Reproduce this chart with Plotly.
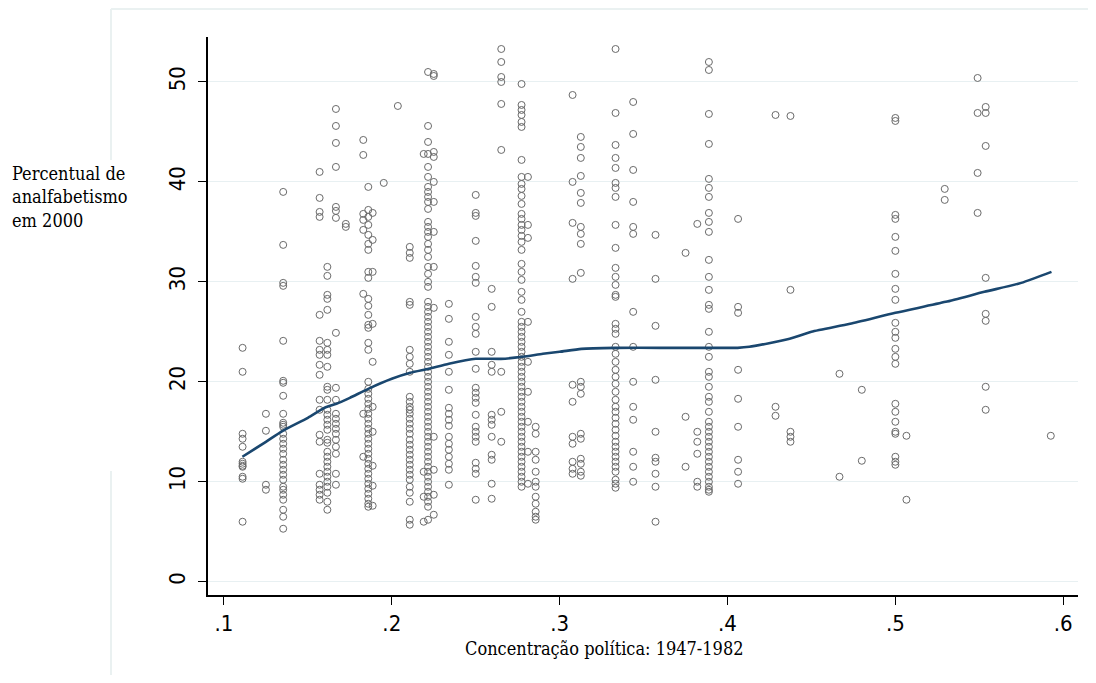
import plotly.graph_objects as go

# ---- data: x position of each column and its y values ----
col_x = [0.1111, 0.125, 0.1353, 0.157, 0.1616, 0.1667, 0.1726, 0.183, 0.186, 0.1886,
         0.1952, 0.2036, 0.2107, 0.2216, 0.225, 0.219, 0.234, 0.25, 0.2595, 0.2652,
         0.2773, 0.2811, 0.2857, 0.3077, 0.3126, 0.3333, 0.3438, 0.3571, 0.375, 0.382,
         0.3889, 0.4063, 0.4286, 0.4375, 0.4667, 0.48, 0.5, 0.5066, 0.5294, 0.549,
         0.5538, 0.5926]

c01 = [23.4, 21.0, 14.8, 14.3, 13.5, 12.0, 11.8, 11.6, 11.5, 10.5, 10.3, 6.0]
c02 = [16.8, 15.1, 9.7, 9.2]
c03 = [39.0, 33.7, 29.9, 29.6, 24.1, 20.1, 19.9, 18.6, 16.8, 15.9, 15.7, 15.5, 14.8, 14.3,
       13.8, 13.3, 12.8, 12.2, 11.7, 11.2, 10.7, 10.2, 9.5, 9.2, 8.7, 8.2, 7.2, 6.5, 5.3]
c04 = [41.0, 38.4, 37.0, 36.5, 26.7, 24.1, 23.2, 22.7, 21.7, 20.7, 18.2, 17.2, 14.7, 14.0,
       10.8, 9.7, 9.2, 8.7, 8.2]
c05 = [31.5, 30.6, 28.7, 28.3, 27.2, 23.9, 23.2, 22.7, 21.5, 19.5, 19.2, 18.2, 17.2, 16.7,
       16.2, 15.7, 15.2, 14.2, 13.9, 13.0, 12.5, 12.0, 11.5, 11.0, 10.5, 10.0, 9.5, 8.9, 8.0, 7.2]
c06 = [47.3, 45.6, 43.9, 41.5, 37.5, 37.1, 36.4, 24.9, 19.4, 18.2, 16.8, 16.3, 15.8, 15.3,
       14.8, 14.2, 13.5, 12.8, 10.8, 9.7]
c07 = [35.8, 35.5]
c08 = [44.2, 42.7, 36.8, 36.2, 35.2, 28.8, 16.8, 12.5]
c09 = [39.5, 37.2, 36.5, 35.7, 34.7, 33.8, 33.2, 31.0, 30.4, 28.3, 27.6, 26.7, 25.7, 25.4,
       23.9, 23.2, 20.0, 19.3, 18.8, 18.3, 17.8, 17.3, 16.8, 16.3, 15.8, 15.3, 14.8, 14.3,
       13.8, 13.3, 12.8, 12.3, 11.8, 11.3, 10.8, 10.3, 9.8, 9.3, 8.8, 8.3, 7.8, 7.5]
c10 = [36.9, 34.2, 31.0, 25.8, 22.0, 17.5, 15.0, 11.6, 9.6, 7.6]
c11 = [39.9]
c12 = [47.6]
c13 = [33.5, 32.9, 32.4, 28.0, 27.7, 23.2, 22.5, 21.8, 21.0, 18.5, 18.0, 17.5, 17.2, 16.8,
       16.3, 15.8, 15.3, 14.8, 14.2, 13.7, 13.2, 12.7, 12.2, 11.7, 11.2, 10.7, 10.2, 9.5,
       8.9, 8.0, 6.2, 5.7]
c14 = [51.0, 45.6, 44.0, 42.8, 41.5, 40.5, 39.5, 39.0, 38.5, 38.0, 37.3, 36.0, 35.5, 35.0,
       34.5, 33.8, 33.2, 32.5, 31.5, 30.8, 30.0, 29.5, 28.0, 27.5, 27.0, 26.5, 26.0, 25.5,
       25.0, 24.5, 24.0, 23.5, 23.0, 22.5, 22.0, 21.5, 21.0, 20.5, 20.0, 19.5, 19.0, 18.5,
       18.0, 17.5, 17.0, 16.5, 16.0, 15.5, 15.0, 14.5, 14.0, 13.5, 13.0, 12.5, 12.0, 11.5,
       11.0, 10.5, 10.0, 9.5, 9.0, 8.5, 8.0, 7.5, 6.2]
c15 = [50.8, 50.6, 43.0, 42.5, 40.0, 38.0, 35.0, 31.5, 27.4, 14.5, 11.2, 8.7, 6.7]
c16 = [42.8, 11.0, 8.5, 6.0]
c17 = [27.8, 26.3, 24.0, 22.7, 21.0, 19.2, 17.4, 16.8, 16.2, 15.6, 14.5, 13.8, 13.2, 12.5,
       11.8, 11.2, 9.7]
c18 = [38.7, 36.9, 36.6, 34.1, 31.6, 30.5, 29.9, 26.5, 25.5, 24.8, 23.0, 21.3, 19.4, 18.9,
       18.4, 17.9, 16.7, 15.5, 15.0, 14.5, 14.0, 11.9, 11.3, 10.8, 8.2]
c19 = [29.3, 27.5, 23.0, 21.7, 21.0, 16.7, 16.2, 15.7, 14.5, 12.7, 12.2, 9.8, 8.3]
c20 = [53.3, 52.0, 50.5, 50.0, 47.8, 43.2, 21.0, 17.0, 14.0]
c21 = [49.8, 47.7, 47.2, 46.7, 46.0, 45.5, 42.2, 40.5, 39.8, 39.3, 38.6, 37.8, 36.8, 36.3,
       35.7, 35.2, 34.6, 34.0, 33.2, 31.8, 31.0, 30.2, 29.0, 28.2, 27.0, 26.0, 25.5, 25.0,
       24.5, 24.0, 23.5, 23.0, 22.5, 22.0, 21.5, 21.0, 20.5, 20.0, 19.5, 19.0, 18.5, 18.0,
       17.5, 17.0, 16.5, 16.0, 15.5, 15.0, 14.5, 14.0, 13.5, 13.0, 12.5, 12.0, 11.5, 11.0,
       10.5, 10.0, 9.5]
c22 = [40.5, 35.7, 34.4, 26.0, 22.0, 19.0, 16.0, 13.0, 9.8]
c23 = [15.5, 14.8, 13.0, 12.2, 11.0, 10.0, 9.5, 8.5, 7.8, 7.0, 6.5, 6.2]
c24 = [48.7, 40.0, 35.9, 30.3, 19.7, 18.0, 14.5, 13.8, 12.0, 11.3, 10.8]
c25 = [44.5, 43.5, 42.4, 40.6, 38.9, 37.9, 35.5, 34.8, 33.8, 30.9, 20.0, 19.5, 18.8, 14.8,
       14.3, 12.3, 11.8, 11.0, 10.6]
c26 = [53.3, 46.9, 43.7, 42.4, 41.4, 39.9, 39.4, 38.5, 35.7, 33.4, 31.4, 30.5, 29.7, 28.7,
       28.5, 25.8, 25.3, 24.8, 23.5, 22.8, 22.0, 21.2, 20.5, 19.8, 19.0, 18.2, 17.5, 17.0,
       16.4, 15.8, 15.2, 14.6, 14.0, 13.5, 13.0, 12.5, 12.0, 11.5, 11.0, 10.2, 9.8, 9.4]
c27 = [48.0, 44.8, 41.2, 38.0, 35.5, 34.8, 27.0, 23.5, 20.0, 17.5, 16.2, 13.0, 11.5, 10.0]
c28 = [34.7, 30.3, 25.6, 20.2, 15.0, 12.4, 12.0, 10.8, 9.5, 6.0]
c29 = [32.9, 16.5, 11.5]
c30 = [35.8, 15.0, 14.0, 12.8, 10.0, 9.5]
c31 = [52.0, 51.2, 46.8, 43.8, 40.3, 39.4, 38.5, 36.9, 36.0, 35.0, 32.2, 30.5, 29.2, 27.7,
       27.3, 25.0, 23.5, 22.5, 21.0, 20.5, 19.5, 18.5, 18.0, 17.0, 16.0, 15.5, 15.0, 14.5,
       14.0, 13.5, 13.0, 12.5, 12.0, 11.5, 11.0, 10.5, 10.0, 9.5, 9.2, 9.0]
c32 = [36.3, 27.5, 26.9, 21.2, 18.3, 15.5, 12.2, 11.0, 9.8]
c33 = [46.7, 17.5, 16.6]
c34 = [46.6, 29.2, 15.0, 14.5, 14.0]
c35 = [20.8, 10.5]
c36 = [19.2, 12.1]
c37 = [46.4, 46.1, 36.7, 36.3, 34.5, 33.1, 30.8, 29.3, 28.2, 25.9, 25.0, 24.4, 23.3, 22.5,
       21.8, 17.8, 17.0, 16.0, 15.0, 14.8, 12.5, 12.0, 11.7]
c38 = [14.6, 8.2]
c39 = [39.3, 38.2]
c40 = [50.4, 46.9, 40.9, 36.9]
c41 = [47.5, 46.9, 43.6, 30.4, 26.8, 26.1, 19.5, 17.2]
c42 = [14.6]

col_y = [c01, c02, c03, c04, c05, c06, c07, c08, c09, c10, c11, c12, c13, c14, c15, c16,
         c17, c18, c19, c20, c21, c22, c23, c24, c25, c26, c27, c28, c29, c30, c31, c32,
         c33, c34, c35, c36, c37, c38, c39, c40, c41, c42]

# smoothed (lowess) curve
line_x = [0.111, 0.125, 0.135, 0.15, 0.16, 0.167, 0.175, 0.186, 0.2, 0.211, 0.222, 0.234,
          0.25, 0.265, 0.278, 0.29, 0.3, 0.313, 0.333, 0.36, 0.389, 0.406, 0.413, 0.437,
          0.45, 0.473, 0.5, 0.53, 0.553, 0.575, 0.593]
line_y = [12.5, 14.0, 15.1, 16.4, 17.4, 17.8, 18.4, 19.3, 20.3, 20.9, 21.3, 21.8,
          22.3, 22.3, 22.5, 22.8, 23.0, 23.3, 23.4, 23.4, 23.4, 23.4, 23.5, 24.3,
          25.0, 25.8, 26.9, 28.0, 29.0, 29.9, 31.0]

x_ticks = [0.1, 0.2, 0.3, 0.4, 0.5, 0.6]
x_tick_text = [".1", ".2", ".3", ".4", ".5", ".6"]
y_ticks = [0, 10, 20, 30, 40, 50]

x_title = "Concentração política: 1947-1982"
y_title = "Percentual de<br>analfabetismo<br>em 2000"

# ---- build ----
pts_x, pts_y = [], []
for xv, ys in zip(col_x, col_y):
    for yv in ys:
        pts_x.append(xv)
        pts_y.append(yv)

OFF = 8  # default body margin of the html page
W, H = 1096 - 2 * OFF, 683 - 2 * OFF
L, T = 208 - OFF, 37 - OFF
R = W - (1078 - OFF)
B = H - (595 - OFF)
pw, ph = W - L - R, H - T - B

def px2paper_x(px):  # page pixel -> paper
    return (px - OFF - L) / pw

def px2paper_y(py):
    return (H - B - (py - OFF)) / ph

fig = go.Figure()
fig.add_trace(go.Scatter(
    x=pts_x, y=pts_y, mode="markers",
    marker=dict(symbol="circle-open", size=7, color="#6a6a6a", line=dict(width=1)),
    hoverinfo="skip", showlegend=False))
fig.add_trace(go.Scatter(
    x=line_x, y=line_y, mode="lines",
    line=dict(color="#1a476f", width=2.6, shape="spline", smoothing=0.6),
    hoverinfo="skip", showlegend=False))

tick_font = dict(family="Liberation Sans Narrow, Arial Narrow, DejaVu Sans Condensed, sans-serif",
                 size=22, color="#000000")
serif = "DejaVu Serif Condensed, DejaVu Serif, serif"

fig.update_layout(
    width=W, height=H,
    margin=dict(l=L, r=R, t=T, b=B, pad=0),
    paper_bgcolor="white", plot_bgcolor="white",
    xaxis=dict(range=[0.0905, 0.6088], tickvals=x_ticks, ticktext=x_tick_text,
               showgrid=False, zeroline=False, showline=True, linecolor="#000",
               linewidth=1.5, ticks="outside", ticklen=8, tickwidth=1.3, tickcolor="#000",
               tickfont=tick_font, ticklabelstandoff=0),
    yaxis=dict(range=[-1.33, 54.5], tickvals=y_ticks, ticktext=[str(v) for v in y_ticks],
               showgrid=True, gridcolor="#e8f0f2", gridwidth=1, zeroline=False,
               showline=True, linecolor="#000", linewidth=1.5, ticks="outside",
               ticklen=8, tickwidth=1.3, tickcolor="#000", tickangle=-90,
               tickfont=tick_font, ticklabelstandoff=4),
    annotations=[
        dict(text=x_title, x=px2paper_x(604), y=px2paper_y(648), xref="paper", yref="paper",
             xanchor="center", yanchor="middle", showarrow=False,
             font=dict(family=serif, size=18, color="#000")),
        dict(text=y_title, x=px2paper_x(10), y=px2paper_y(197), xref="paper", yref="paper",
             xanchor="left", yanchor="middle", align="left", showarrow=False,
             font=dict(family=serif, size=18, color="#000")),
    ],
    shapes=[
        dict(type="line", xref="paper", yref="paper", x0=px2paper_x(111), x1=px2paper_x(1096),
             y0=px2paper_y(9), y1=px2paper_y(9), line=dict(color="#eaf1f1", width=2)),
        dict(type="line", xref="paper", yref="paper", x0=px2paper_x(111), x1=px2paper_x(111),
             y0=px2paper_y(9), y1=px2paper_y(160), line=dict(color="#eaf1f1", width=2)),
        dict(type="line", xref="paper", yref="paper", x0=px2paper_x(111), x1=px2paper_x(111),
             y0=px2paper_y(471), y1=px2paper_y(683), line=dict(color="#eaf1f1", width=2)),
    ],
)

fig.write_html("out.html")
